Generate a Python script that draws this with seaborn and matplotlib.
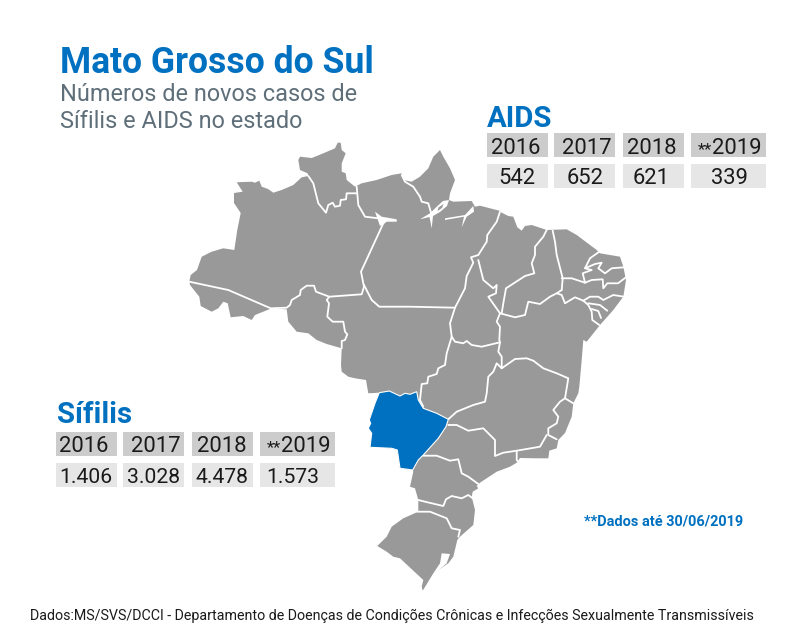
import matplotlib
matplotlib.use('Agg')
import matplotlib.pyplot as plt
import seaborn as sns
from matplotlib.patches import Rectangle

sns.set_theme(style='white')
plt.rcParams['font.family'] = ['Roboto', 'DejaVu Sans']

azul = '#0070c0'
cinza_mapa = '#999999'

# tabelas
anos = ['2016', '2017', '2018', '2019']
aids = ['542', '652', '621', '339']
sifilis = ['1.406', '3.028', '4.478', '1.573']

# contorno do pais (tracado na imagem, em pixels)
brasil = [
    (189.3,281.7),(190.7,275),(197,270),(201.7,256.7),(211.7,251.7),(223.3,248.3),(234.3,250),(237.3,230),
    (240.7,213),(234,203),(234,193),(242.7,191.7),(236.7,182.3),(251.7,181.7),(255,182.7),(259.3,180.7),
    (261.7,186.7),(268,189),(273.3,192.7),(281.7,190),(293.3,185),(301.7,177.3),(308.3,176),(307.7,173.3),
    (300,170),(298.3,160),(300,156.7),(311.7,158),(321.7,154),(335,148.3),(337.7,142.7),(340.7,142.7),
    (341.7,150),(345.7,153.3),(341.7,163.3),(341.7,171.7),(345.7,173.3),(346.7,180),(355,186.7),(361.7,183.3),
    (376.7,180),(391.7,175),(401.7,173.3),(403.3,180),(411.7,181.7),(420,176.7),(428.3,168.3),(433.3,156.7),
    (440,150),(443.3,156.7),(450,168.3),(455,180),(450,193.3),(449,200),(453.3,201.7),(471.7,201),
    (475,206.7),(480,205.7),(499.3,210.7),(501.7,212.7),(508.3,216),(513.3,216.7),(517.3,227.3),(521.7,230.7),
    (525,226),(531.7,225),(546.7,230),(566.7,229.3),(576.7,235),(596.7,250),(600,253.3),(620,256.7),
    (623.3,266.7),(626,280),(623.3,296.7),(613.3,310),(600,325),(586.7,341.7),(583.3,340),(581.7,360),
    (579.3,386.7),(578.3,393.3),(573.3,403.3),(571.7,416.7),(565,433),(558.3,440),(556.7,448.3),(549.3,450.7),
    (548.3,458.3),(536.7,458.3),(520,458),(516.7,462.7),(510,466.7),(496.7,471.7),(480,482.7),(476.7,486),
    (478.3,488.3),(472.7,491.7),(471.7,496.7),(475,510),(473.3,525),(460,536.7),(457.3,540),(453.3,556.7),
    (448.3,563.3),(433.3,573.3),(422.7,590.7),(421.7,586.7),(423.3,580),(400,558.3),(393.3,556.7),(386.7,551.7),
    (377.3,546),(386.7,536.7),(391.7,526.7),(403.3,518.3),(418.3,511.7),(418.3,500),(415,488.3),(410,486.7),
    (413.3,471.7),(412.7,470),(400,468.3),(397.3,450),(391.7,448.3),(370,447.3),(371.7,433.3),(368.3,428.3),
    (370.7,423.3),(369.3,420),(375,403.3),(379.3,392.7),(368.3,393.3),(366,380),(355,378.3),(348.3,376.7),
    (341.7,371.7),(341,365),(341.7,348.3),(326.7,344),(316.7,340),(308.3,333.3),(296.7,331.7),(288.3,321.7),
    (286.7,309.3),(271.7,308.3),(255,315),(251.7,320),(243.3,316),(230.7,317.3),(227.7,303.3),(223.3,301.7),
    (218.3,308.3),(211.7,311.7),(200.7,306),(199.3,296.7),(190,285),
]

mato_grosso_sul = [
    (379.3,392.7),(389.3,391),(400,396),(405,393.3),(410,394.3),(416.7,391.7),(418.3,400),(423.3,408.3),
    (436.7,413.3),(448.3,419.3),(446,426.7),(438.3,438.3),(423.3,455),(418.3,460),(412.7,470),(400,468.3),
    (397.3,450),(391.7,448.3),(370,447.3),(371.7,433.3),(368.3,428.3),(370.7,423.3),(369.3,420),(375,403.3),
]

# recortes brancos: foz do amazonas, rio negro e lagoa dos patos
recortes = [
    [(420,219.3),(430,213.3),(436.7,206.7),(443,201),(449,200),(447,206),(440,212),(433,216),(431.7,228.3),(429.5,217)],
    [(445,218.3),(465,215),(473.3,206),(474,211.7),(466.7,216.7),(461.7,227.3),(464,216.7),(445,220)],
    [(375,211.7),(381.7,216.7),(396.7,219.3),(396.7,221.7),(386.7,221.7),(380,226),(377.3,218.3)],
    [(441.7,553.3),(450,554),(446.7,563.3),(436.7,571.7),(433.3,573.3),(440,563.3)],
]
ilha_foz = [(438.5,207.5),(443.5,204),(442,208),(437.5,211)]

# divisas entre estados
divisas = [
    [(189.3,281.7),(228.3,290),(270.7,308.3),(286.7,307.7),(290,305),(291.7,300),(300,295),(300.7,290),(306.7,285.7),
     (314,285.7),(316,291.7),(329.3,296.7),(361.7,294.3),(364,286.7),(361,271.7),(383.3,223.3),(386.7,220)],
    [(329.3,296.7),(326.7,300),(329,303.3),(327.3,316.7),(332.7,321.7),(343.3,321.7),(345,331.7),(347.3,334.3),
     (345,340),(341.7,341),(341.7,348.3)],
    [(308.3,176),(313.3,183.3),(318.3,203.3),(326,212.7),(328.3,205),(332.7,202.7),(335,206.7),(340,205.7),
     (340.7,200),(346,199.3),(346.7,193.3),(356.7,193.3)],
    [(356.7,186.7),(358.3,205),(365,216.7),(378.3,218.3),(386.7,220)],
    [(364,285),(371.7,300),(379.3,306.7),(410,306.7),(455,307.7)],
    [(401.7,175),(405,181.7),(413.3,186.7),(420,196.7),(421.7,201.7),(428.3,203.3),(431.7,215)],
    [(500,211.7),(496.7,221.7),(487.3,235),(486.7,241.7),(478.3,255),(471,257.3),(473.3,262.7),(466.7,276),
     (465,288.3),(455,307.7),(450,323.3),(451.7,336.7),(446.7,353.3),(445,365),(438.3,368.3),(436.7,374),
     (428.3,376.7),(427.3,383.3),(421.7,384),(420,400),(423.3,406.7)],
    [(451.7,336.7),(455,341.7),(463.3,343.3),(466.7,341),(471.7,345),(481.7,346.7),(500,342.3)],
    [(478.3,260),(483.3,280),(493.3,288.3),(496.7,285),(496,293.3),(488.3,296.7),(500,313.3),(496.7,321.7),
     (500,326.7),(499.3,340),(500,342.3),(498.3,351.7),(501.7,356.7),(501.7,368.3)],
    [(501.7,368.3),(496.7,363.3),(493.3,371.7),(488.3,376.7),(486.7,393.3),(485,401.7),(473.3,405),(456.7,411.7),
     (448.3,419.3)],
    [(501.7,368.3),(515,359),(526.7,358.3),(533.3,360.7),(543.3,368.3),(556.7,373.3),(568.3,378.3),(565,398.3),
     (573.3,403.3)],
    [(565,398.3),(560,401.7),(553.3,410),(558.3,416.7),(556.7,423.3),(548.3,428.3),(548.3,435),(556.7,439.3)],
    [(546.7,435),(540,446.7),(516.7,450.7),(503.3,452.7),(495,456),(495,440),(486.7,431.7),(483.3,428.3),
     (468.3,430.7),(456.7,425),(448.3,425)],
    [(516.7,450.7),(516.7,460),(518.3,461.7)],
    [(423.3,455.7),(436.7,455.7),(450,460.7),(458.3,459.3),(461.7,473.3),(468.3,476.7),(478.3,484)],
    [(418.3,500),(425,501.7),(443.3,506),(446,499.3),(451.7,496),(461.7,498.3),(468.3,495),(472.7,498.3)],
    [(417.3,511.7),(430,511.7),(446.7,518.3),(451.7,528.3),(460,530),(458.3,536.7)],
    [(546.7,230),(543.3,236.7),(535,246.7),(535,255),(531.7,263.3),(534.3,273.3),(525,276),(506,288.3),
     (503.3,303.3),(501.7,313.3)],
    [(552.7,230.7),(555,241.7),(556.7,255),(562.7,278.3),(561.7,290)],
    [(500,313.3),(515,317.3),(525,315),(528.3,301.7),(540,304),(550,296.7),(556.7,293.3),(561.7,295),(565,303.3),
     (575,297.3),(583.3,300.7),(588.3,305),(591.7,311.7),(592.3,320),(599.3,325)],
    [(556.7,293.3),(561.7,290)],
    [(561.7,278.3),(571.7,278.3),(585,282.7),(591.7,280),(602.7,279.3),(603.3,288.3),(607.3,283.3),(618,283.3),
     (626,277.3)],
    [(583.3,300.7),(590,296.7),(598.3,296.7),(603.3,300),(613.3,295),(624,296.7)],
    [(588.3,303.3),(600,305),(607.3,310.7)],
    [(591.7,309),(598.3,311),(601,318)],
    [(599.3,251.7),(590,258.3),(585,268.3),(591.7,270),(582.7,273.3),(585,282.7)],
    [(585,268.3),(595,264),(601.7,262.7),(598.3,268.3),(605,273.3),(611.7,268.3),(624,267.3)],
]

fig = plt.figure(figsize=(8, 6.4), dpi=100)
ax = fig.add_axes([0, 0, 1, 1])
ax.set_xlim(0, 800)
ax.set_ylim(640, 0)
ax.axis('off')

ax.fill(*zip(*brasil), color=cinza_mapa, lw=0)
for r in recortes:
    ax.fill(*zip(*r), color='white', lw=0, zorder=3)
ax.fill(*zip(*ilha_foz), color=cinza_mapa, lw=0, zorder=3.5)
for d in divisas:
    x, y = zip(*d)
    sns.lineplot(x=list(x), y=list(y), sort=False, estimator=None, color='white', lw=1.3, ax=ax, zorder=4)
ax.fill(*zip(*mato_grosso_sul), color=azul, ec='white', lw=0.8, zorder=5)


def tabela(titulo, tx, ty, valores, cel_x, y_ano, y_val, x_ano, x_est, x_val, tam_val):
    ax.text(tx, ty, titulo, color=azul, fontsize=21.2, fontweight='bold')
    for i, ano in enumerate(anos):
        x0, x1 = cel_x[i]
        ax.add_patch(Rectangle((x0, y_ano), x1 - x0, 24, color='#cccccc', lw=0))
        ax.add_patch(Rectangle((x0, y_val), x1 - x0, 24, color='#e6e6e6', lw=0))
        ax.text(x_ano[i], y_ano + 20.5, ano, color='#1a1a1a', fontsize=15.8)
        ax.text(x_val[i], y_val + 20, valores[i], color='#1a1a1a', fontsize=tam_val)
    ax.text(x_est, y_ano + 20.5, '**', color='#1a1a1a', fontsize=12)


tabela('AIDS', 486.5, 126.7, aids,
       [(486.7, 547.7), (554, 615), (622.7, 683.7), (691, 766)], 133.3, 164.3,
       [490.5, 562, 627, 712], 697.5, [498, 566.5, 633, 710.5], 15.8)
tabela('Sífilis', 57, 423.3, sifilis,
       [(55.7, 116.7), (123.3, 184.3), (191.7, 252.7), (260, 335)], 431.7, 462.7,
       [59.5, 131.5, 196.5, 281.5], 266.5, [59, 127.5, 196, 266.5], 15.2)

ax.text(60, 73, 'Mato Grosso do Sul', color=azul, fontsize=25.6, fontweight='bold')
ax.text(60, 101, 'Números de novos casos de', color='#5f6f7a', fontsize=16.9)
ax.text(60, 128, 'Sífilis e AIDS no estado', color='#5f6f7a', fontsize=16.9)
ax.text(584, 526, '**Dados até 30/06/2019', color=azul, fontsize=10.45, fontweight='bold')
ax.text(30, 620, 'Dados:MS/SVS/DCCI - Departamento de Doenças de Condições Crônicas e Infecções Sexualmente Transmissíveis',
        color='#1a1a1a', fontsize=10.25)

fig.savefig('out.png', dpi=100)
